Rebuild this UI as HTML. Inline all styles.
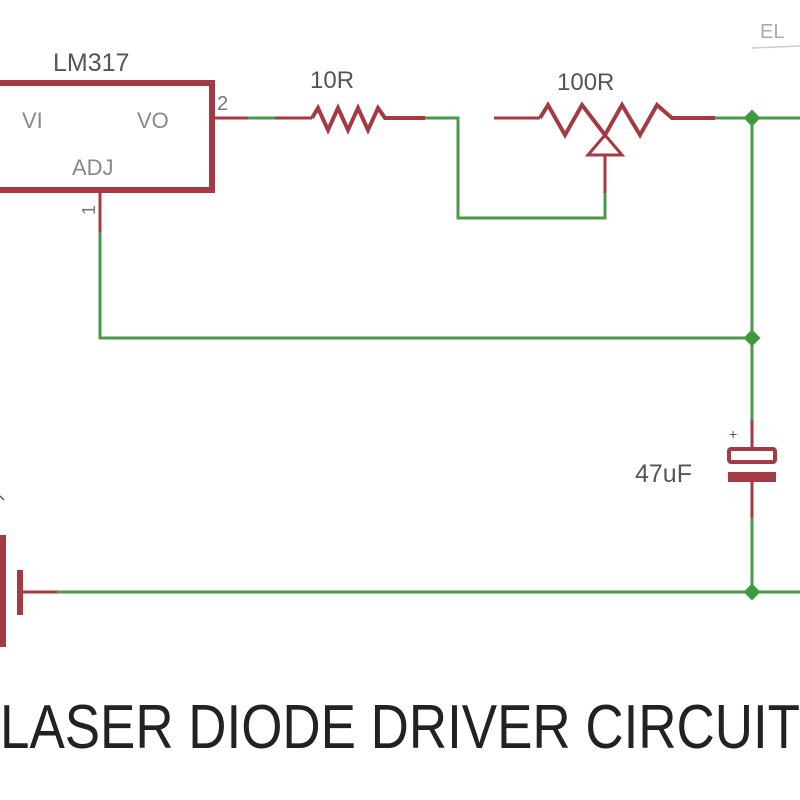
<!DOCTYPE html>
<html><head><style>
body{margin:0;background:#fff;}
svg{display:block}
</style></head><body>
<svg width="800" height="800" viewBox="0 0 800 800" xmlns="http://www.w3.org/2000/svg">
<g font-family="Liberation Sans, sans-serif" fill="#555">
<text x="53" y="71" font-size="25">LM317</text>
<text x="22" y="128" font-size="22" fill="#888">VI</text>
<text x="137" y="128" font-size="22" fill="#888">VO</text>
<text x="72" y="175" font-size="22" fill="#888">ADJ</text>
<text x="217" y="110" font-size="20" fill="#777">2</text>
<text x="0" y="0" font-size="18" fill="#777" transform="translate(95,215) rotate(-90)">1</text>
<text x="310" y="88" font-size="24">10R</text>
<text x="557" y="90" font-size="24">100R</text>
<text x="635" y="482" font-size="25">47uF</text>
<text x="729" y="439" font-size="14">+</text>
<text x="760" y="38" font-size="20" fill="#aaa">EL</text>
</g>
<line x1="752" y1="48" x2="800" y2="46" stroke="#ccc" stroke-width="1.5"/>
<g stroke="#4a9a4a" stroke-width="3" fill="none">
<polyline points="240,118 280,118"/>
<polyline points="420,118 458,118 458,218 605,218 605,190"/>
<polyline points="710,118 800,118"/>
<polyline points="100,230 100,338 752,338"/>
<polyline points="752,118 752,440"/>
<polyline points="752,492 752,592"/>
<polyline points="55,592 800,592"/>
</g>
<g fill="#3e9a3e">
<rect x="746" y="112" width="12" height="12" transform="rotate(45 752 118)"/>
<rect x="746" y="332" width="12" height="12" transform="rotate(45 752 338)"/>
<rect x="746" y="586" width="12" height="12" transform="rotate(45 752 592)"/>
</g>
<g stroke="#a33a44" stroke-width="3" fill="none">
<rect x="-5" y="83" width="217" height="107" stroke-width="6"/>
<line x1="212" y1="118" x2="248" y2="118"/>
<line x1="275" y1="118" x2="312" y2="118"/>
<polyline points="312,118 318,108 328,130 338,108 348,130 358,108 368,130 378,108 385,118 425,118" stroke-width="4"/>
<line x1="100" y1="190" x2="100" y2="232"/>
<line x1="494" y1="118" x2="540" y2="118"/>
<polyline points="540,118 548,105 565,135 582,105 605,135 622,105 640,135 657,105 672,118 715,118" stroke-width="4"/>
<polygon points="605,135 588,155 622,155"/>
<line x1="605" y1="155" x2="605" y2="193"/>
<line x1="752" y1="420" x2="752" y2="448"/>
<rect x="729" y="449" width="46" height="13" rx="2" stroke-width="4"/>
<rect x="728" y="472" width="48" height="10" fill="#a33a44" stroke="none"/>
<line x1="752" y1="482" x2="752" y2="518"/>
<line x1="3" y1="535" x2="3" y2="647" stroke-width="6"/>
<line x1="20" y1="570" x2="20" y2="615" stroke-width="6"/>
<line x1="20" y1="592" x2="57" y2="592"/>
</g>
<line x1="0" y1="496" x2="4" y2="500" stroke="#555" stroke-width="1.5"/>
<text x="0" y="748" font-family="Liberation Sans, sans-serif" font-size="62" fill="#222" textLength="800" lengthAdjust="spacingAndGlyphs">LASER DIODE DRIVER CIRCUIT</text>
</svg>
</body></html>
